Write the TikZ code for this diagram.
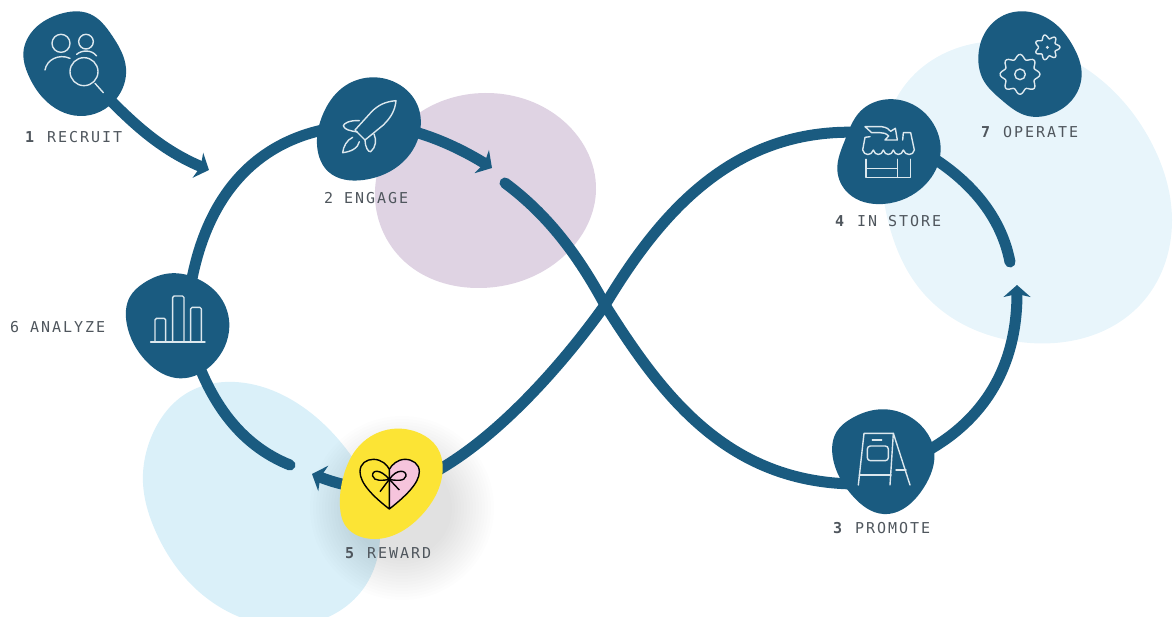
\documentclass[tikz,border=0pt]{standalone}
\usepackage{fontspec}
\usetikzlibrary{arrows.meta,hobby}
\newfontfamily\labfont[LetterSpace=13]{DejaVu Sans Mono}
\definecolor{navy}{HTML}{1A5B80}
\definecolor{sun}{HTML}{FCE435}
\definecolor{rosy}{HTML}{F6C4DC}
\definecolor{lilac}{HTML}{DFD3E3}
\definecolor{skyA}{HTML}{E8F5FB}
\definecolor{skyB}{HTML}{DAF0F9}
\definecolor{iconline}{HTML}{DCE8EE}
\definecolor{labelgray}{HTML}{4F565D}
\tikzset{
  zoomed/.style 2 args={shift={(#1,#2)},x=0.33333pt,y=-0.33333pt},
  band/.style={draw=navy,line width=11pt},
  roundband/.style={band,line cap=round},
  arrowband/.style={band,-{Stealth[length=12pt,width=27pt,inset=3pt]}},
  iconstroke/.style={draw=iconline,line width=1.4pt,line join=round,line cap=round},
  blobpath/.style={use Hobby shortcut,closed=true},
  lab/.style={anchor=mid west,inner sep=0pt,text=labelgray,font=\fontsize{15}{15}\selectfont\labfont}
}
\begin{document}
\begin{tikzpicture}[x=1pt,y=-1pt]
\clip (0,0) rectangle (1173,617);
% background washes
\fill[lilac,blobpath] (485,93) .. (560,118) .. (596,190) .. (570,250) .. (480,288) .. (405,262) .. (375,190) .. (410,120);
\fill[skyA,blobpath] (977,43) .. (1085,68) .. (1150,140) .. (1172,220) .. (1140,305) .. (1020,342) .. (925,295) .. (885,207) .. (905,85);
\fill[skyB,blobpath] (235,382) .. (300,405) .. (347,450) .. (380,537) .. (360,593) .. (300,625) .. (197,590) .. (155,530) .. (143,483) .. (153,433) .. (187,393);
% soft shadow of the reward blob
\foreach \r in {50,53,...,92}{\fill[black,opacity=.009] (402,508) circle (\r);}
% named ports
\coordinate (n1) at (75,64);
\coordinate (n2) at (370,125);
\coordinate (n3) at (883,483);
\coordinate (n3b) at (883,470);
\coordinate (n4) at (889,135);
\coordinate (n5) at (391,490);
\coordinate (n6) at (186,325);
\coordinate (tip1) at (209,170);
\coordinate (tip2) at (492,168);
\coordinate (tip3) at (1017,285);
\coordinate (tip5) at (312,474);
\coordinate (end6) at (290,465);
\coordinate (end4) at (1010,262);
\coordinate (start2) at (505,183);
\coordinate (cross) at (605,305);
% connectors
\draw[arrowband] (n1) .. controls (120,110) and (150,145) .. (tip1);
\draw[arrowband] (n2) .. controls (410,125) and (455,145) .. (tip2);
\draw[band] (n2) .. controls (265,125) and (195,190) .. (n6);
\draw[roundband] (n6) .. controls (205,400) and (240,445) .. (end6);
\draw[arrowband] (n5) .. controls (365,490) and (340,485) .. (tip5);
\draw[roundband] (start2) .. controls (548,215) and (578,255) .. (cross) .. controls (665,400) and (735,495) .. (n3);
\draw[band] (n5) .. controls (470,470) and (555,375) .. (cross) .. controls (665,205) and (745,115) .. (n4);
\draw[arrowband] (n3b) .. controls (960,445) and (1017,390) .. (tip3);
\draw[roundband] (n4) .. controls (960,165) and (1000,210) .. (end4);
% 1 recruit
\begin{scope}[zoomed={0}{0}]
\fill[navy,blobpath] (70,160) .. (105,85) .. (180,42) .. (270,42) .. (335,105) .. (378,205) .. (350,295) .. (240,348) .. (130,295) .. (85,225);
\draw[iconstroke] (183,130) circle (27);
\draw[iconstroke] (135,210) .. controls (140,180) and (175,160) .. (210,175);
\draw[iconstroke] (258,125) circle (22);
\draw[iconstroke] (230,163) .. controls (245,150) and (275,148) .. (290,168);
\draw[iconstroke] (252,215) circle (42);
\draw[iconstroke] (285,250) -- (310,278);
\end{scope}
% 2 engage
\begin{scope}[zoomed={300}{60}]
\fill[navy,blobpath] (215,52) .. (300,75) .. (350,130) .. (362,200) .. (310,305) .. (190,360) .. (85,335) .. (52,265) .. (70,160) .. (125,85);
\draw[iconstroke] (288,122) .. controls (255,125) and (235,135) .. (215,155) -- (165,210) -- (195,240) -- (250,195) .. controls (275,170) and (285,150) .. cycle;
\draw[iconstroke] (178,182) .. controls (150,180) and (130,190) .. (130,198) .. controls (135,210) and (150,212) .. (172,216);
\draw[iconstroke] (158,232) .. controls (140,240) and (130,260) .. (128,278) .. controls (150,276) and (175,265) .. (178,245);
\draw[iconstroke] (195,240) .. controls (195,260) and (205,278) .. (212,275) .. controls (228,262) and (230,240) .. (222,222);
\end{scope}
% 3 promote
\begin{scope}[zoomed={810}{390}]
\fill[navy,blobpath] (210,58) .. (290,75) .. (345,120) .. (372,180) .. (340,295) .. (220,372) .. (130,320) .. (68,200) .. (80,125) .. (125,85);
\draw[iconstroke] (145,285) -- (162,130) -- (250,130) -- (300,285);
\draw[iconstroke] (240,285) -- (250,130);
\draw[iconstroke] (148,255) -- (243,255);
\draw[iconstroke] (258,240) -- (288,240);
\draw[iconstroke,rounded corners=3pt] (172,168) rectangle (235,212);
\draw[iconstroke] (187,150) -- (215,150);
\end{scope}
% 4 in store
\begin{scope}[zoomed={820}{0}]
\fill[navy,blobpath] (200,298) .. (290,320) .. (345,380) .. (362,450) .. (315,555) .. (190,612) .. (85,580) .. (52,510) .. (75,420) .. (120,335);
\draw[iconstroke] (135,380) -- (185,380) .. controls (200,382) and (208,388) .. (212,394) -- (226,385) -- (232,420) -- (195,420) -- (206,408) .. controls (198,400) and (190,398) .. (180,398) -- (155,398) -- cycle;
\draw[iconstroke] (150,410) -- (135,412) -- (128,450) .. controls (132,468) and (155,468) .. (160,450) .. controls (165,468) and (185,468) .. (190,450) .. controls (195,468) and (215,468) .. (220,450) .. controls (225,468) and (245,468) .. (250,450) .. controls (255,468) and (280,468) .. (283,450) -- (272,398) -- (250,398) -- (248,420);
\draw[iconstroke] (138,478) -- (138,532) -- (272,532) -- (272,478);
\draw[iconstroke] (138,505) -- (232,505);
\draw[iconstroke] (232,478) -- (232,532);
\end{scope}
% 5 reward
\begin{scope}[zoomed={280}{410}]
\fill[sun,blobpath] (335,57) .. (420,70) .. (470,110) .. (488,180) .. (430,310) .. (260,385) .. (195,345) .. (180,290) .. (190,200) .. (240,105);
\fill[rosy] (328,297) .. controls (375,260) and (418,220) .. (418,185) .. controls (418,162) and (398,148) .. (375,148) .. controls (352,148) and (335,165) .. (328,178) -- cycle;
\draw[black,line width=1.4pt,line join=round] (328,297) .. controls (280,260) and (240,220) .. (240,185) .. controls (240,160) and (260,148) .. (280,148) .. controls (305,148) and (322,165) .. (328,178) .. controls (335,165) and (352,148) .. (375,148) .. controls (398,148) and (418,162) .. (418,185) .. controls (418,220) and (375,260) .. (328,297) -- (328,178);
\draw[black,line width=1.4pt] (328,208) .. controls (300,175) and (275,180) .. (278,198) .. controls (282,215) and (310,212) .. (328,208) .. controls (350,175) and (380,180) .. (378,198) .. controls (375,215) and (345,212) .. (328,208);
\draw[black,line width=1.4pt] (300,245) -- (328,208) -- (358,240);
\fill[black] (328,208) circle (6);
\end{scope}
% 6 analyze
\begin{scope}[zoomed={0}{260}]
\fill[navy,blobpath] (510,40) .. (600,60) .. (660,110) .. (688,200) .. (640,310) .. (540,355) .. (440,305) .. (380,190) .. (390,110) .. (430,70);
\draw[iconstroke] (452,246) -- (615,246);
\draw[iconstroke,rounded corners=1.5pt] (465,246) -- (465,175) -- (497,175) -- (497,246);
\draw[iconstroke,rounded corners=1.5pt] (518,246) -- (518,108) -- (552,108) -- (552,246);
\draw[iconstroke,rounded corners=1.5pt] (572,246) -- (572,142) -- (604,142) -- (604,246);
\end{scope}
% 7 operate
\begin{scope}[zoomed={820}{0}]
\fill[navy,blobpath] (475,170) .. (500,90) .. (560,42) .. (640,38) .. (710,75) .. (760,140) .. (785,220) .. (760,295) .. (700,340) .. (620,347) .. (545,300) .. (490,240);
\draw[iconstroke] plot[smooth cycle,samples=65,domain=0:354.375] ({600+(53+7*cos(8*\x))*cos(\x)},{223+(53+7*cos(8*\x))*sin(\x)});
\draw[iconstroke] (600,223) circle (16);
\draw[iconstroke] plot[smooth cycle,samples=57,domain=0:353.7] ({682+(32+6*cos(7*\x))*cos(\x)},{142+(32+6*cos(7*\x))*sin(\x)});
\fill[iconline] (682,142) circle (5);
\end{scope}
% labels
\node[lab] (l1) at (25,140) {\textbf{1} RECRUIT};
\node[lab] (l2) at (324,201) {2 ENGAGE};
\node[lab] (l3) at (833,531) {\textbf{3} PROMOTE};
\node[lab] (l4) at (835,224) {\textbf{4} IN STORE};
\node[lab] (l5) at (345,556) {\textbf{5} REWARD};
\node[lab] (l6) at (10,330) {6 ANALYZE};
\node[lab] (l7) at (981,135) {\textbf{7} OPERATE};
\end{tikzpicture}
\end{document}
